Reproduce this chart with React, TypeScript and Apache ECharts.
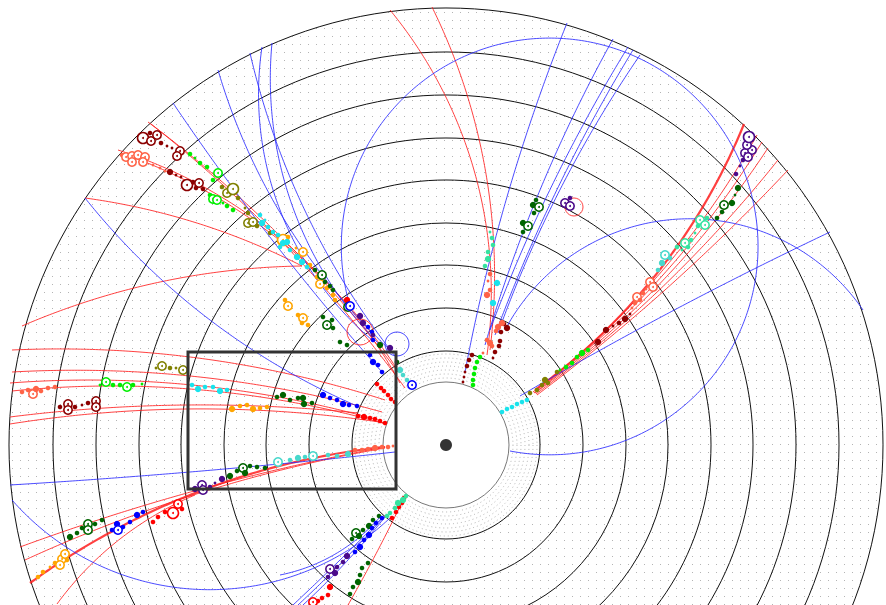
import { useEffect, useRef } from "react";
import * as echarts from "echarts";

// Display frame: x grows to the right, y grows downward (yAxis inverted).
const WIDTH = 886;
const HEIGHT = 605;
const DETECTOR_CENTER = [446, 445];
const RING_RADII = [94, 137, 180, 222, 265, 307, 350, 393, 437];
const BORE_RADIUS = 63;
const INNER_LAYER_RADII = [67, 71, 75, 79, 83, 87, 91];
const ZOOM_BOX = [188, 352, 396, 489];

// Hits: [x, y, deposit]; deposit 1..3 = single hit of growing charge, 4..5 = merged hit
const DARK_RED_HITS = [
  [143, 138, 5], [150, 133, 2], [151, 141, 4], [157, 135, 4], [161, 143, 2], [167, 146, 1], [172, 148, 1], [180, 151, 4], [177, 156, 4],
  [170, 172, 3], [176, 175, 1], [181, 177, 1], [187, 185, 5], [193, 182, 2], [199, 183, 4], [196, 188, 2], [203, 189, 2],
  [60, 407, 2], [68, 404, 4], [68, 410, 4], [75, 407, 2], [82, 405, 1], [88, 403, 2], [96, 401, 4], [96, 407, 4],
  [472, 355, 2], [469, 360, 2], [467, 366, 2], [465, 372, 1], [464, 377, 1], [463, 382, 1],
  [504, 324, 2], [507, 328, 3], [501, 332, 2], [500, 341, 2], [499, 346, 2], [495, 352, 2], [493, 358, 1],
  [598, 342, 3], [606, 330, 3], [613, 326, 1], [619, 323, 2], [625, 319, 3], [630, 314, 1],
];
const TOMATO_HITS = [
  [122, 155, 2], [126, 157, 4], [132, 156, 4], [138, 155, 4], [145, 157, 4], [132, 162, 4], [143, 162, 4], [153, 165, 1], [160, 168, 1], [165, 171, 1],
  [22, 392, 2], [28, 390, 2], [33, 394, 4], [36, 389, 3], [41, 391, 2], [48, 388, 2], [55, 387, 2],
  [355, 450, 2], [362, 450, 2], [368, 449, 2], [375, 448, 3], [382, 447, 2], [388, 447, 2], [393, 446, 1],
  [483, 353, 1], [487, 340, 2], [490, 343, 3], [492, 346, 2], [487, 295, 3], [490, 290, 2], [488, 281, 1], [490, 274, 2],
  [498, 327, 3], [502, 323, 3], [496, 331, 2],
  [632, 308, 1], [635, 303, 2], [637, 297, 4], [640, 300, 2], [643, 293, 2], [646, 289, 1], [650, 282, 4], [653, 287, 4],
];
const RED_HITS = [
  [377, 384, 2], [381, 388, 2], [384, 391, 2], [388, 395, 2], [391, 399, 2], [395, 402, 2],
  [358, 416, 2], [364, 417, 3], [370, 418, 2], [375, 419, 2], [380, 421, 2], [385, 423, 2],
  [153, 522, 2], [158, 517, 2], [165, 512, 2], [173, 513, 5], [178, 504, 4], [182, 509, 2],
  [404, 498, 2], [402, 503, 2], [399, 507, 2], [396, 512, 2], [392, 518, 2],
  [330, 587, 3], [328, 595, 2], [322, 598, 2], [318, 601, 2], [313, 602, 4],
  [347, 300, 3],
];
const ORANGE_HITS = [
  [283, 240, 5], [288, 237, 2], [296, 248, 1], [303, 252, 4], [310, 265, 2], [317, 277, 2], [320, 284, 4], [327, 288, 2], [333, 295, 2], [335, 300, 2],
  [285, 300, 2], [288, 306, 4], [298, 315, 2], [303, 318, 4], [302, 323, 2], [308, 325, 2],
  [232, 409, 3], [240, 406, 2], [247, 405, 2], [253, 409, 3], [260, 408, 2], [267, 407, 2],
  [38, 577, 2], [43, 572, 2], [50, 567, 1], [55, 563, 2], [62, 559, 4], [65, 554, 4], [60, 565, 4], [67, 560, 2],
];
const OLIVE_HITS = [
  [222, 187, 2], [227, 193, 4], [233, 189, 5], [238, 198, 2], [245, 208, 1], [248, 213, 2], [248, 223, 4], [253, 222, 4], [257, 226, 2], [270, 233, 2],
  [156, 368, 1], [162, 366, 4], [170, 368, 2], [176, 368, 1], [183, 370, 4],
  [530, 393, 2], [537, 390, 2], [542, 385, 2], [545, 380, 3], [548, 383, 2], [557, 372, 2],
];
const LIME_HITS = [
  [190, 154, 2], [195, 158, 1], [200, 163, 2], [207, 167, 2], [218, 173, 4], [213, 180, 2], [210, 195, 2], [213, 199, 4], [217, 200, 4], [223, 203, 1], [227, 206, 2], [233, 210, 2],
  [100, 385, 1], [106, 382, 4], [113, 385, 2], [120, 385, 2], [127, 387, 4], [133, 385, 2], [142, 384, 1],
  [480, 357, 2], [477, 362, 2], [475, 368, 2], [474, 374, 2], [473, 380, 2], [473, 385, 2],
  [588, 350, 2], [582, 353, 3], [577, 357, 2], [572, 363, 2], [566, 367, 2], [560, 370, 1],
];
const GREEN_HITS = [
  [315, 270, 2], [322, 275, 4], [325, 282, 2], [330, 286, 2], [333, 290, 2],
  [323, 317, 2], [327, 325, 4], [332, 320, 2], [333, 328, 2], [340, 342, 2], [347, 345, 2], [348, 307, 4], [380, 345, 3], [397, 362, 2],
  [277, 397, 2], [283, 395, 3], [290, 400, 2], [298, 398, 2], [303, 398, 3], [304, 404, 3], [312, 403, 2],
  [230, 476, 3], [237, 471, 2], [243, 468, 4], [245, 473, 3], [250, 466, 2], [257, 467, 2], [265, 468, 2],
  [70, 537, 3], [77, 533, 2], [82, 528, 2], [88, 524, 4], [88, 530, 4], [95, 524, 2], [102, 520, 2],
  [379, 516, 2], [373, 520, 2], [369, 526, 3], [363, 530, 2], [356, 533, 4], [359, 536, 3], [352, 539, 2],
  [368, 563, 2], [362, 568, 2], [360, 575, 2], [358, 582, 3], [353, 587, 2], [350, 594, 2],
  [536, 200, 2], [533, 205, 3], [539, 207, 4], [534, 213, 2], [523, 223, 3], [528, 226, 4], [523, 232, 2],
  [717, 218, 2], [722, 212, 2], [724, 205, 4], [732, 203, 3], [735, 195, 1], [738, 188, 3],
];
const CYAN_HITS = [
  [260, 215, 2], [265, 220, 1], [262, 223, 3], [268, 227, 2], [273, 232, 2], [278, 235, 2], [283, 243, 3], [287, 242, 3], [280, 247, 2], [290, 250, 2], [297, 257, 3], [302, 262, 3], [307, 267, 2],
  [192, 385, 2], [198, 389, 3], [205, 387, 2], [213, 387, 2], [220, 391, 3], [227, 390, 2],
  [502, 412, 2], [507, 409, 2], [512, 407, 2], [517, 404, 2], [522, 402, 2], [527, 400, 2],
  [497, 283, 3], [493, 303, 3],
];
const TURQUOISE_HITS = [
  [278, 462, 4], [290, 460, 2], [298, 458, 3], [305, 457, 2], [313, 456, 4], [328, 455, 2], [337, 456, 2], [348, 454, 3],
  [400, 370, 3], [403, 375, 2], [407, 380, 2],
  [658, 270, 2], [662, 263, 3], [665, 255, 4], [670, 258, 2],
];
const SPRING_HITS = [
  [490, 232, 1], [492, 238, 2], [493, 245, 2], [488, 252, 2], [488, 259, 3], [485, 266, 2],
  [677, 247, 2], [682, 250, 1], [685, 243, 4], [688, 247, 2], [691, 240, 2], [695, 233, 1], [698, 226, 2], [700, 220, 4], [705, 225, 4], [707, 218, 2],
  [406, 496, 2], [403, 500, 3], [398, 503, 3], [395, 508, 2], [390, 513, 2], [387, 516, 2],
];
const BLUE_HITS = [
  [323, 395, 3], [330, 398, 2], [337, 400, 2], [343, 404, 3], [349, 405, 2], [357, 406, 2],
  [368, 327, 2], [372, 332, 2], [373, 340, 2], [370, 355, 2], [373, 362, 3], [378, 365, 2], [382, 372, 2],
  [350, 306, 4], [412, 385, 4],
  [112, 530, 2], [117, 524, 3], [118, 530, 4], [123, 527, 2], [130, 522, 2], [137, 515, 3], [143, 512, 2],
  [382, 518, 2], [376, 523, 2], [372, 528, 2], [369, 535, 3], [364, 540, 2], [360, 547, 3], [355, 552, 2],
];
const PURPLE_HITS = [
  [360, 316, 3], [363, 323, 3], [373, 335, 2], [390, 348, 3],
  [195, 489, 3], [202, 485, 4], [203, 490, 4], [210, 487, 2], [215, 483, 1], [222, 479, 3],
  [347, 556, 3], [343, 562, 2], [337, 567, 2], [330, 569, 4], [335, 573, 3], [328, 577, 2],
  [570, 198, 2], [565, 203, 4], [570, 206, 4],
  [736, 174, 2], [740, 166, 1], [743, 160, 2], [745, 153, 4], [752, 150, 4], [748, 157, 4], [747, 145, 4], [749, 137, 5],
];

// Track fits: [startX, startY, midX, midY, endX, endY], drawn as the circle arc through the three points
const RED_TRACKS = [
  [148, 122, 272, 228, 398, 372],
  [151, 124, 280, 240, 405, 388],
  [118, 150, 252, 217, 400, 383],
  [121, 153, 258, 224, 395, 366],
  [85, 198, 200, 224, 302, 266],
  [22, 326, 160, 282, 302, 266],
  [12, 350, 190, 357, 385, 400],
  [12, 372, 190, 376, 382, 412],
  [10, 383, 192, 385, 378, 420],
  [12, 391, 190, 389, 386, 424],
  [10, 417, 187, 405, 358, 413],
  [10, 424, 187, 409, 386, 423],
  [20, 547, 187, 493, 385, 447],
  [25, 560, 187, 497, 385, 448],
  [57, 604, 147, 520, 195, 495],
  [348, 605, 378, 550, 404, 498],
  [390, 10, 478, 185, 487, 355],
  [432, 7, 487, 180, 490, 350],
  [757, 135, 606, 330, 533, 392],
  [762, 142, 608, 331, 534, 393],
  [768, 148, 610, 332, 535, 393],
  [778, 160, 612, 333, 536, 394],
  [788, 170, 614, 334, 537, 395],
];
const RED_TRACKS_STIFF = [
  [30, 583, 190, 495, 385, 447],
  [744, 124, 650, 282, 535, 390],
];
const BLUE_TRACKS = [
  [510, 451, 758, 250, 350, 306],
  [505, 330, 700, 219, 863, 310],
  [830, 232, 680, 307, 520, 396],
  [567, 23, 512, 180, 465, 372],
  [613, 39, 540, 190, 485, 345],
  [628, 47, 545, 200, 490, 330],
  [633, 50, 552, 200, 495, 335],
  [640, 55, 565, 180, 498, 333],
  [262, 47, 280, 210, 372, 340],
  [272, 43, 292, 205, 382, 347],
  [250, 53, 300, 200, 395, 356],
  [218, 70, 292, 232, 390, 350],
  [173, 103, 280, 250, 382, 372],
  [85, 198, 210, 320, 357, 406],
  [10, 485, 190, 472, 395, 452],
  [12, 500, 180, 588, 390, 518],
  [280, 575, 330, 557, 380, 517],
  [293, 605, 340, 560, 382, 518],
  [298, 605, 344, 560, 383, 518],
  [303, 605, 348, 560, 385, 517],
];
// Secondary vertices: [x, y, radius]
const RED_VERTICES = [
  [360, 332, 13],
  [574, 207, 9],
];
const BLUE_VERTICES = [[397, 344, 12]];

const COLORS = {
  darkRed: "#8b0000",
  tomato: "#ff6347",
  red: "#ff0000",
  orange: "#ffa500",
  olive: "#808000",
  lime: "#00ee00",
  green: "#006400",
  cyan: "#19e3ec",
  turquoise: "#48d8cc",
  spring: "#35e3a0",
  blue: "#0000ff",
  purple: "#4b0a8a",
  trackRed: "#ff1f1f",
  trackBlue: "#2a2aff",
};

const DOT_RADIUS = [0, 1.4, 2.3, 3.2];

function arcThrough(a: number[], m: number[], b: number[]) {
  const [ax, ay] = a;
  const [mx, my] = m;
  const [bx, by] = b;
  const d = 2 * (ax * (my - by) + mx * (by - ay) + bx * (ay - my));
  if (Math.abs(d) < 1e-6) return [a, b];
  const a2 = ax * ax + ay * ay;
  const m2 = mx * mx + my * my;
  const b2 = bx * bx + by * by;
  const ux = (a2 * (my - by) + m2 * (by - ay) + b2 * (ay - my)) / d;
  const uy = (a2 * (bx - mx) + m2 * (ax - bx) + b2 * (mx - ax)) / d;
  const r = Math.hypot(ax - ux, ay - uy);
  if (r > 1e5) return [a, m, b];
  const TAU = Math.PI * 2;
  const norm = (t: number) => ((t % TAU) + TAU) % TAU;
  const t0 = Math.atan2(ay - uy, ax - ux);
  const dm = norm(Math.atan2(my - uy, mx - ux) - t0);
  const d1 = norm(Math.atan2(by - uy, bx - ux) - t0);
  const sweep = dm < d1 ? d1 : d1 - TAU;
  const n = Math.min(400, Math.max(8, Math.ceil((Math.abs(sweep) * r) / 3)));
  const pts: number[][] = [];
  for (let i = 0; i <= n; i++) {
    const t = t0 + (sweep * i) / n;
    pts.push([ux + r * Math.cos(t), uy + r * Math.sin(t)]);
  }
  return pts;
}

function trackSeries(name: string, tracks: number[][], color: string, width: number) {
  return {
    type: "custom",
    name,
    silent: true,
    clip: false,
    data: tracks,
    renderItem: (_p: any, api: any) => {
      const p0 = api.coord([api.value(0), api.value(1)]);
      const pm = api.coord([api.value(2), api.value(3)]);
      const p1 = api.coord([api.value(4), api.value(5)]);
      return {
        type: "polyline",
        shape: { points: arcThrough(p0, pm, p1) },
        style: { stroke: color, lineWidth: width, fill: "none", opacity: 0.85 },
      };
    },
  };
}

function vertexSeries(name: string, vertices: number[][], color: string) {
  return {
    type: "custom",
    name,
    silent: true,
    clip: false,
    data: vertices,
    renderItem: (_p: any, api: any) => {
      const c = api.coord([api.value(0), api.value(1)]);
      const r = api.size([api.value(2), 0])[0];
      return {
        type: "circle",
        shape: { cx: c[0], cy: c[1], r },
        style: { stroke: color, lineWidth: 1, fill: "none", opacity: 0.85 },
      };
    },
  };
}

function hitSeries(name: string, hits: number[][], color: string) {
  return {
    type: "custom",
    name,
    silent: true,
    clip: false,
    data: hits,
    renderItem: (_p: any, api: any) => {
      const c = api.coord([api.value(0), api.value(1)]);
      const dep = api.value(2);
      if (dep >= 4) {
        const r = dep === 5 ? 5.5 : 4.2;
        return {
          type: "group",
          children: [
            { type: "circle", shape: { cx: c[0], cy: c[1], r }, style: { fill: "#ffffff", stroke: color, lineWidth: 1.6 } },
            { type: "circle", shape: { cx: c[0], cy: c[1], r: 1 }, style: { fill: color } },
          ],
        };
      }
      return { type: "circle", shape: { cx: c[0], cy: c[1], r: DOT_RADIUS[dep] }, style: { fill: color } };
    },
  };
}

export default function App() {
  const ref = useRef<HTMLDivElement>(null);

  useEffect(() => {
    if (!ref.current) return;
    const chart = echarts.init(ref.current, undefined, { renderer: "svg" });

    const dotCanvas = document.createElement("canvas");
    dotCanvas.width = 8;
    dotCanvas.height = 8;
    const ctx = dotCanvas.getContext("2d");
    if (ctx) {
      ctx.fillStyle = "#b4b4b4";
      ctx.fillRect(4, 4, 1, 1);
    }
    const dotFill = { image: dotCanvas, repeat: "repeat", imageWidth: 8, imageHeight: 8 };

    const detectorBody = {
      type: "custom",
      silent: true,
      clip: false,
      data: [[0]],
      renderItem: (_p: any, api: any) => {
        const c = api.coord(DETECTOR_CENTER);
        const px = (v: number) => api.size([v, 0])[0];
        return {
          type: "group",
          children: [
            { type: "circle", shape: { cx: c[0], cy: c[1], r: px(RING_RADII[RING_RADII.length - 1]) }, style: { fill: dotFill } },
            { type: "circle", shape: { cx: c[0], cy: c[1], r: px(RING_RADII[0]) }, style: { fill: "#ffffff" } },
            ...INNER_LAYER_RADII.map((r) => ({
              type: "circle",
              shape: { cx: c[0], cy: c[1], r: px(r) },
              style: { fill: "none", stroke: "#a0a0a0", lineWidth: 0.8, lineDash: [1, 3] },
            })),
          ],
        };
      },
    };

    const layers = {
      type: "custom",
      silent: true,
      clip: false,
      data: [...RING_RADII, BORE_RADIUS].map((r) => [r]),
      renderItem: (_p: any, api: any) => {
        const c = api.coord(DETECTOR_CENTER);
        const r = api.size([api.value(0), 0])[0];
        const bore = api.value(0) === BORE_RADIUS;
        return {
          type: "circle",
          shape: { cx: c[0], cy: c[1], r },
          style: { fill: "none", stroke: bore ? "#555" : "#111", lineWidth: bore ? 0.8 : 1 },
        };
      },
    };

    const zoomBox = {
      type: "custom",
      silent: true,
      clip: false,
      data: [ZOOM_BOX],
      renderItem: (_p: any, api: any) => {
        const p0 = api.coord([api.value(0), api.value(1)]);
        const p1 = api.coord([api.value(2), api.value(3)]);
        return {
          type: "rect",
          shape: { x: p0[0], y: p0[1], width: p1[0] - p0[0], height: p1[1] - p0[1] },
          style: { fill: "none", stroke: "#333", lineWidth: 3 },
        };
      },
    };

    const beamSpot = {
      type: "scatter",
      silent: true,
      data: [DETECTOR_CENTER],
      symbolSize: 12,
      itemStyle: { color: "#000" },
    };

    chart.setOption({
      animation: false,
      backgroundColor: "#ffffff",
      grid: { left: 0, right: 0, top: 0, bottom: 0 },
      xAxis: { type: "value", min: 0, max: WIDTH, show: false },
      yAxis: { type: "value", min: 0, max: HEIGHT, inverse: true, show: false },
      series: [
        detectorBody,
        layers,
        trackSeries("red tracks", RED_TRACKS, COLORS.trackRed, 1),
        trackSeries("stiff red tracks", RED_TRACKS_STIFF, COLORS.trackRed, 2.2),
        trackSeries("blue tracks", BLUE_TRACKS, COLORS.trackBlue, 1),
        vertexSeries("red vertices", RED_VERTICES, COLORS.trackRed),
        vertexSeries("blue vertices", BLUE_VERTICES, COLORS.trackBlue),
        hitSeries("dark red", DARK_RED_HITS, COLORS.darkRed),
        hitSeries("tomato", TOMATO_HITS, COLORS.tomato),
        hitSeries("red", RED_HITS, COLORS.red),
        hitSeries("orange", ORANGE_HITS, COLORS.orange),
        hitSeries("olive", OLIVE_HITS, COLORS.olive),
        hitSeries("lime", LIME_HITS, COLORS.lime),
        hitSeries("green", GREEN_HITS, COLORS.green),
        hitSeries("cyan", CYAN_HITS, COLORS.cyan),
        hitSeries("turquoise", TURQUOISE_HITS, COLORS.turquoise),
        hitSeries("spring", SPRING_HITS, COLORS.spring),
        hitSeries("blue", BLUE_HITS, COLORS.blue),
        hitSeries("purple", PURPLE_HITS, COLORS.purple),
        zoomBox,
        beamSpot,
      ],
    });

    return () => chart.dispose();
  }, []);

  return <div ref={ref} style={{ position: "absolute", left: 0, top: 0, width: WIDTH, height: HEIGHT }} />;
}
